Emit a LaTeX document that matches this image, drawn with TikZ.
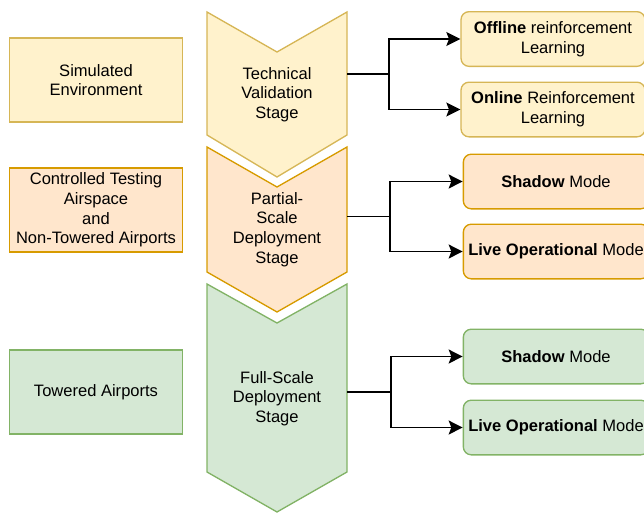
\documentclass[tikz,border=0pt]{standalone}
\usepackage{fontspec}
\setmainfont{Liberation Sans}
\usetikzlibrary{arrows.meta}

\definecolor{ylwfill}{HTML}{FFF2CC}
\definecolor{ylwline}{HTML}{D6B656}
\definecolor{orgfill}{HTML}{FFE6CC}
\definecolor{orgline}{HTML}{D79B00}
\definecolor{grnfill}{HTML}{D5E8D4}
\definecolor{grnline}{HTML}{82B366}

\begin{document}
\begin{tikzpicture}[x=0.75pt, y=-0.75pt, line width=1pt,
	every node/.style={font=\fontsize{12.4}{14.7}\selectfont, align=center},
	envbox/.style={draw, rectangle, minimum width=130pt, minimum height=63pt, inner sep=1pt},
	modebox/.style={draw, rectangle, rounded corners=6pt, minimum width=139pt, minimum height=41pt, inner sep=1pt},
	link/.style={-{Stealth[length=10.5pt, width=10.5pt, inset=2pt]}, black, line width=1.1pt}]
	\useasboundingbox (0,0) rectangle (644,512);

	% Stage chevrons
	\filldraw[fill=ylwfill, draw=ylwline] (207,12) -- (277,52) -- (347,12) -- (347,135) -- (277,177) -- (207,135) -- cycle;
	\node (tv) at (277,94.5) {Technical\\Validation\\Stage};
	\filldraw[fill=orgfill, draw=orgline] (207,147) -- (277,187) -- (347,147) -- (347,272) -- (277,312) -- (207,272) -- cycle;
	\node (psd) at (277,229.5) {Partial-\\Scale\\Deployment\\Stage};
	\filldraw[fill=grnfill, draw=grnline] (207,284) -- (277,323) -- (347,284) -- (347,472) -- (277,512) -- (207,472) -- cycle;
	\node (fsd) at (277,398.5) {Full-Scale\\Deployment\\Stage};

	% Environments on the left
	\node[envbox, fill=ylwfill, draw=ylwline] (sim) at (96,80) {Simulated\\Environment};
	\node[envbox, fill=orgfill, draw=orgline] (cta) at (96,210) {Controlled Testing\\Airspace\\and\\Non-Towered Airports};
	\node[envbox, fill=grnfill, draw=grnline] (twr) at (96,392) {Towered Airports};

	% Modes on the right
	\node[modebox, fill=ylwfill, draw=ylwline, minimum width=138pt] (off) at (553,39) {\textbf{Offline} reinforcement\\Learning};
	\node[modebox, fill=ylwfill, draw=ylwline, minimum width=138pt] (onl) at (553,109.5) {\textbf{Online} Reinforcement\\Learning};
	\node[modebox, fill=orgfill, draw=orgline] (psh) at (556,181.5) {\textbf{Shadow} Mode};
	\node[modebox, fill=orgfill, draw=orgline] (pliv) at (556,251.5) {\textbf{Live Operational} Mode};
	\node[modebox, fill=grnfill, draw=grnline] (fsh) at (556,356.5) {\textbf{Shadow} Mode};
	\node[modebox, fill=grnfill, draw=grnline] (fliv) at (556,427.5) {\textbf{Live Operational} Mode};

	% Branching connectors
	\coordinate (tvR) at (347,74);
	\coordinate (tvJ) at (389,74);
	\draw[line width=1.1pt] (tvR) -- (tvJ);
	\draw[link] (tvJ) |- (off.west);
	\draw[link] (tvJ) |- (onl.west);

	\coordinate (psdR) at (347,216.5);
	\coordinate (psdJ) at (390,216.5);
	\draw[line width=1.1pt] (psdR) -- (psdJ);
	\draw[link] (psdJ) |- (psh.west);
	\draw[link] (psdJ) |- (pliv.west);

	\coordinate (fsdR) at (347,392);
	\coordinate (fsdJ) at (391,392);
	\draw[line width=1.1pt] (fsdR) -- (fsdJ);
	\draw[link] (fsdJ) |- (fsh.west);
	\draw[link] (fsdJ) |- (fliv.west);
\end{tikzpicture}
\end{document}
